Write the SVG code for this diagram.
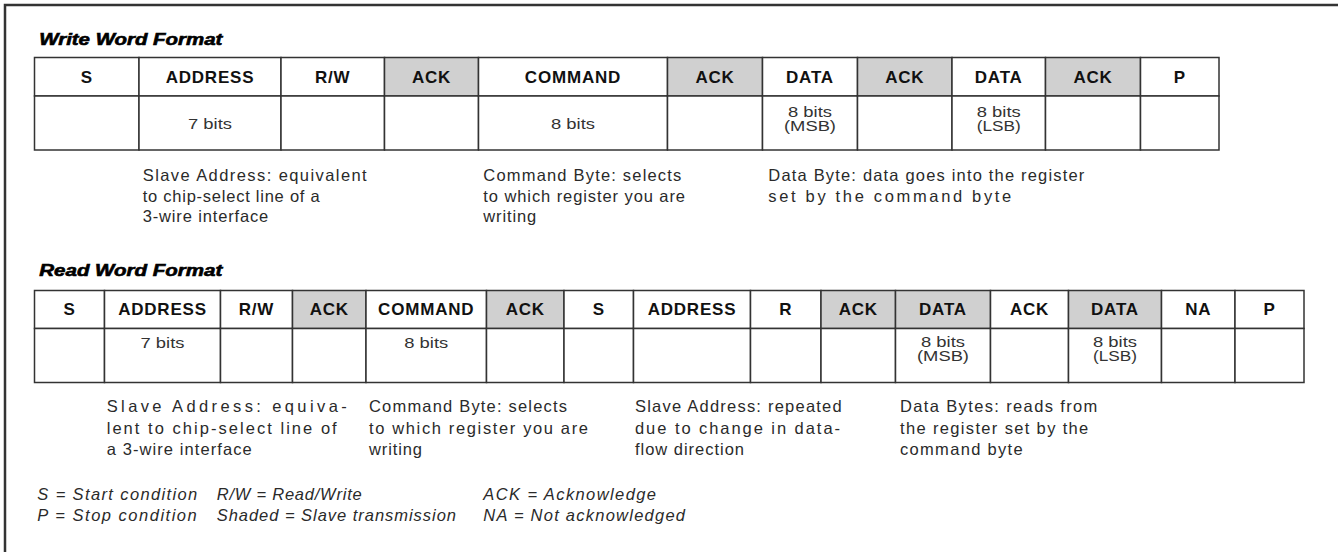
<svg xmlns="http://www.w3.org/2000/svg" width="1338" height="552" viewBox="0 0 1338 552">
<style>
.bg{fill:#fff}
.frame{fill:none;stroke:#333;stroke-width:2.5}
.h{fill:#fff;stroke:#333;stroke-width:1.5}
.hs{fill:#d0d0d0;stroke:#333;stroke-width:1.5}
.d{fill:#fff;stroke:#333;stroke-width:1.5}
.title{font-family:"Liberation Sans",Arial,sans-serif;font-size:16px;font-weight:bold;font-style:italic;fill:#000;stroke:#000;stroke-width:0.6}
.lbl{font-family:"Liberation Sans",Arial,sans-serif;font-size:17px;font-weight:bold;fill:#111;text-anchor:middle;letter-spacing:0.8px}
.val{font-family:"Liberation Sans",Arial,sans-serif;font-size:14.5px;fill:#333;text-anchor:middle}
.note{font-family:"Liberation Sans",Arial,sans-serif;font-size:16.5px;fill:#2a2a2a}
.leg{font-family:"Liberation Sans",Arial,sans-serif;font-size:16.5px;font-style:italic;fill:#2a2a2a}
</style>
<rect class="bg" x="0" y="0" width="1338" height="552"/>
<path class="frame" d="M1338,5 H5 V552"/>

<text class="title" x="39.3" y="45" textLength="183" lengthAdjust="spacingAndGlyphs">Write Word Format</text>
<text class="title" x="39.3" y="275.7" textLength="183" lengthAdjust="spacingAndGlyphs">Read Word Format</text>

<g id="write-table">
<g id="w-s"><rect class="h" x="34.5" y="57.5" width="104.5" height="38.5"/><rect class="d" x="34.5" y="96" width="104.5" height="54"/><text class="lbl" x="86.75" y="82.5">S</text></g>
<g id="w-address"><rect class="h" x="139" y="57.5" width="142" height="38.5"/><rect class="d" x="139" y="96" width="142" height="54"/><text class="lbl" x="210" y="82.5">ADDRESS</text><text class="val" x="210" y="128.5" textLength="44" lengthAdjust="spacingAndGlyphs">7 bits</text></g>
<g id="w-rw"><rect class="h" x="281" y="57.5" width="103.5" height="38.5"/><rect class="d" x="281" y="96" width="103.5" height="54"/><text class="lbl" x="332.75" y="82.5">R/W</text></g>
<g id="w-ack1"><rect class="hs" x="384.5" y="57.5" width="94" height="38.5"/><rect class="d" x="384.5" y="96" width="94" height="54"/><text class="lbl" x="431.5" y="82.5">ACK</text></g>
<g id="w-command"><rect class="h" x="478.5" y="57.5" width="189" height="38.5"/><rect class="d" x="478.5" y="96" width="189" height="54"/><text class="lbl" x="573" y="82.5">COMMAND</text><text class="val" x="573" y="128.5" textLength="44" lengthAdjust="spacingAndGlyphs">8 bits</text></g>
<g id="w-ack2"><rect class="hs" x="667.5" y="57.5" width="95" height="38.5"/><rect class="d" x="667.5" y="96" width="95" height="54"/><text class="lbl" x="715" y="82.5">ACK</text></g>
<g id="w-data1"><rect class="h" x="762.5" y="57.5" width="95" height="38.5"/><rect class="d" x="762.5" y="96" width="95" height="54"/><text class="lbl" x="810" y="82.5">DATA</text><text class="val" x="810" y="116.5" textLength="44" lengthAdjust="spacingAndGlyphs">8 bits</text><text class="val" x="810" y="130.5" textLength="52" lengthAdjust="spacingAndGlyphs">(MSB)</text></g>
<g id="w-ack3"><rect class="hs" x="857.5" y="57.5" width="94.5" height="38.5"/><rect class="d" x="857.5" y="96" width="94.5" height="54"/><text class="lbl" x="904.75" y="82.5">ACK</text></g>
<g id="w-data2"><rect class="h" x="952" y="57.5" width="93.5" height="38.5"/><rect class="d" x="952" y="96" width="93.5" height="54"/><text class="lbl" x="998.75" y="82.5">DATA</text><text class="val" x="998.75" y="116.5" textLength="44" lengthAdjust="spacingAndGlyphs">8 bits</text><text class="val" x="998.75" y="130.5" textLength="44" lengthAdjust="spacingAndGlyphs">(LSB)</text></g>
<g id="w-ack4"><rect class="hs" x="1045.5" y="57.5" width="95" height="38.5"/><rect class="d" x="1045.5" y="96" width="95" height="54"/><text class="lbl" x="1093" y="82.5">ACK</text></g>
<g id="w-p"><rect class="h" x="1140.5" y="57.5" width="78.5" height="38.5"/><rect class="d" x="1140.5" y="96" width="78.5" height="54"/><text class="lbl" x="1179.75" y="82.5">P</text></g>
</g>

<g id="write-notes">
<g id="wn-address"><text class="note" x="142.7" y="181" textLength="224">Slave Address: equivalent</text><text class="note" x="142.7" y="201.5" textLength="177">to chip-select line of a</text><text class="note" x="142.7" y="222" textLength="125.6">3-wire interface</text></g>
<g id="wn-command"><text class="note" x="483.3" y="181" textLength="198">Command Byte: selects</text><text class="note" x="483.3" y="201.5" textLength="201.7">to which register you are</text><text class="note" x="483.3" y="222" textLength="53">writing</text></g>
<g id="wn-data"><text class="note" x="768.3" y="181" textLength="316">Data Byte: data goes into the register</text><text class="note" x="768.3" y="201.5" textLength="243">set by the command byte</text></g>
</g>

<g id="read-table">
<g id="r-s1"><rect class="h" x="34.5" y="290.5" width="70" height="38"/><rect class="d" x="34.5" y="328.5" width="70" height="54"/><text class="lbl" x="69.5" y="315">S</text></g>
<g id="r-address1"><rect class="h" x="104.5" y="290.5" width="116" height="38"/><rect class="d" x="104.5" y="328.5" width="116" height="54"/><text class="lbl" x="162.5" y="315">ADDRESS</text><text class="val" x="162.5" y="348" textLength="44" lengthAdjust="spacingAndGlyphs">7 bits</text></g>
<g id="r-rw"><rect class="h" x="220.5" y="290.5" width="72" height="38"/><rect class="d" x="220.5" y="328.5" width="72" height="54"/><text class="lbl" x="256.5" y="315">R/W</text></g>
<g id="r-ack1"><rect class="hs" x="292.5" y="290.5" width="73.5" height="38"/><rect class="d" x="292.5" y="328.5" width="73.5" height="54"/><text class="lbl" x="329.25" y="315">ACK</text></g>
<g id="r-command"><rect class="h" x="366" y="290.5" width="120.5" height="38"/><rect class="d" x="366" y="328.5" width="120.5" height="54"/><text class="lbl" x="426.25" y="315">COMMAND</text><text class="val" x="426.25" y="348" textLength="44" lengthAdjust="spacingAndGlyphs">8 bits</text></g>
<g id="r-ack2"><rect class="hs" x="486.5" y="290.5" width="77.5" height="38"/><rect class="d" x="486.5" y="328.5" width="77.5" height="54"/><text class="lbl" x="525.25" y="315">ACK</text></g>
<g id="r-s2"><rect class="h" x="564" y="290.5" width="69.5" height="38"/><rect class="d" x="564" y="328.5" width="69.5" height="54"/><text class="lbl" x="598.75" y="315">S</text></g>
<g id="r-address2"><rect class="h" x="633.5" y="290.5" width="117" height="38"/><rect class="d" x="633.5" y="328.5" width="117" height="54"/><text class="lbl" x="692" y="315">ADDRESS</text></g>
<g id="r-r"><rect class="h" x="750.5" y="290.5" width="70.5" height="38"/><rect class="d" x="750.5" y="328.5" width="70.5" height="54"/><text class="lbl" x="785.75" y="315">R</text></g>
<g id="r-ack3"><rect class="hs" x="821" y="290.5" width="74.5" height="38"/><rect class="d" x="821" y="328.5" width="74.5" height="54"/><text class="lbl" x="858.25" y="315">ACK</text></g>
<g id="r-data1"><rect class="hs" x="895.5" y="290.5" width="95" height="38"/><rect class="d" x="895.5" y="328.5" width="95" height="54"/><text class="lbl" x="943" y="315">DATA</text><text class="val" x="943" y="347" textLength="44" lengthAdjust="spacingAndGlyphs">8 bits</text><text class="val" x="943" y="360.5" textLength="52" lengthAdjust="spacingAndGlyphs">(MSB)</text></g>
<g id="r-ack4"><rect class="h" x="990.5" y="290.5" width="78" height="38"/><rect class="d" x="990.5" y="328.5" width="78" height="54"/><text class="lbl" x="1029.5" y="315">ACK</text></g>
<g id="r-data2"><rect class="hs" x="1068.5" y="290.5" width="93" height="38"/><rect class="d" x="1068.5" y="328.5" width="93" height="54"/><text class="lbl" x="1115" y="315">DATA</text><text class="val" x="1115" y="347" textLength="44" lengthAdjust="spacingAndGlyphs">8 bits</text><text class="val" x="1115" y="360.5" textLength="44" lengthAdjust="spacingAndGlyphs">(LSB)</text></g>
<g id="r-na"><rect class="h" x="1161.5" y="290.5" width="73.5" height="38"/><rect class="d" x="1161.5" y="328.5" width="73.5" height="54"/><text class="lbl" x="1198.25" y="315">NA</text></g>
<g id="r-p"><rect class="h" x="1235" y="290.5" width="69" height="38"/><rect class="d" x="1235" y="328.5" width="69" height="54"/><text class="lbl" x="1269.5" y="315">P</text></g>
</g>

<g id="read-notes">
<g id="rn-address"><text class="note" x="106.7" y="412" textLength="240">Slave Address: equiva-</text><text class="note" x="106.7" y="433.5" textLength="230">lent to chip-select line of</text><text class="note" x="106.7" y="455" textLength="145">a 3-wire interface</text></g>
<g id="rn-command"><text class="note" x="369" y="412" textLength="198">Command Byte: selects</text><text class="note" x="369" y="433.5" textLength="219">to which register you are</text><text class="note" x="369" y="455" textLength="53">writing</text></g>
<g id="rn-repeat"><text class="note" x="635" y="412" textLength="206.7">Slave Address: repeated</text><text class="note" x="635" y="433.5" textLength="205">due to change in data-</text><text class="note" x="635" y="455" textLength="109">flow direction</text></g>
<g id="rn-data"><text class="note" x="900" y="412" textLength="197.3">Data Bytes: reads from</text><text class="note" x="900" y="433.5" textLength="188.3">the register set by the</text><text class="note" x="900" y="455" textLength="122.7">command byte</text></g>
</g>

<g id="legend">
<text class="leg" x="37.3" y="500" textLength="160">S = Start condition</text>
<text class="leg" x="37.3" y="521" textLength="159.4">P = Stop condition</text>
<text class="leg" x="216.7" y="500" textLength="145">R/W = Read/Write</text>
<text class="leg" x="216.7" y="521" textLength="239.3">Shaded = Slave transmission</text>
<text class="leg" x="483.3" y="500" textLength="172.7">ACK = Acknowledge</text>
<text class="leg" x="483.3" y="521" textLength="201.7">NA = Not acknowledged</text>
</g>
<g id="connectors"/>
</svg>
